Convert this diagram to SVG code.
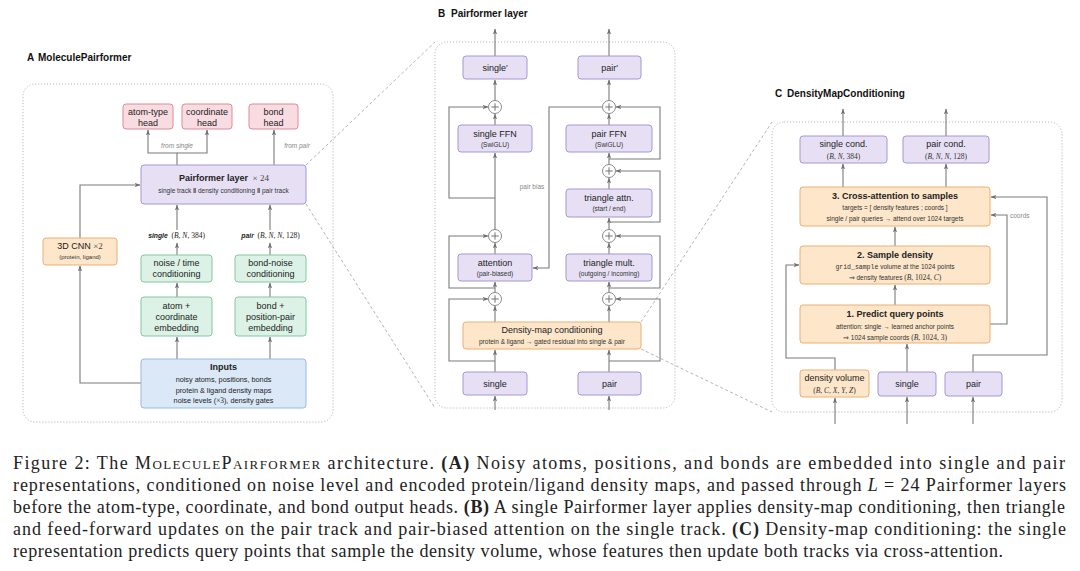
<svg xmlns="http://www.w3.org/2000/svg" width="1080" height="571" viewBox="0 0 1080 571">
<defs>
<marker id="ah" viewBox="0 0 10 10" refX="9" refY="5" markerWidth="6" markerHeight="6" markerUnits="userSpaceOnUse" orient="auto"><path d="M0,1.5 L10,5 L0,8.5 L2.5,5 z" fill="#707070"/></marker>
</defs>
<style>
.panel{fill:none;stroke:#b8b8b8;stroke-width:1;stroke-dasharray:1.2 1.8}
.zl{fill:none;stroke:#aaa;stroke-width:0.9;stroke-dasharray:3 2.5}
.c{fill:none;stroke:#7a7a7a;stroke-width:1.1}
.a{marker-end:url(#ah)}
.lav{fill:#e7e0f5;stroke:#a697d2;stroke-width:1}
.pink{fill:#f9dce1;stroke:#da8d98;stroke-width:1}
.green{fill:#dcf2e6;stroke:#86c6a3;stroke-width:1}
.blue{fill:#dbe8f7;stroke:#98badf;stroke-width:1}
.orange{fill:#fde6ca;stroke:#eab074;stroke-width:1}
.pc{fill:#fff;stroke:#8a8a8a;stroke-width:1}
.pl{stroke:#666;stroke-width:0.9;fill:none}
text{font-family:"Liberation Sans",Arial,sans-serif;fill:#222}
.l{font-size:9px;text-anchor:middle}
.s{font-size:6.5px;text-anchor:middle;fill:#333}
.b{font-weight:bold}
.g{fill:#888;font-size:6.5px;font-style:italic}
.gl{fill:#888;font-size:6.5px}
.m{font-family:"Liberation Serif","Times New Roman",serif}
.mono{font-family:"Liberation Mono","Courier New",monospace}
.title{font-size:10px;font-weight:bold;fill:#111}
.cap{font-family:"Liberation Serif","Times New Roman",serif;font-size:18px;fill:#222}
</style>
<rect width="1080" height="571" fill="#fff"/>

<g id="panelA">
<text class="title" y="61"><tspan x="27">A</tspan><tspan x="38">MoleculePairformer</tspan></text>
<rect class="panel" x="23" y="84" width="310" height="338" rx="12"/>
</g>
<g id="panelB">
<text class="title" y="17"><tspan x="438">B</tspan><tspan x="451">Pairformer layer</tspan></text>
<rect class="panel" x="435" y="42" width="240" height="366" rx="12"/>
</g>
<g id="panelC">
<text class="title" y="97"><tspan x="775">C</tspan><tspan x="787">DensityMapConditioning</tspan></text>
<rect class="panel" x="772" y="122" width="290" height="290" rx="12"/>
</g>

<g id="zoomlines">
<path class="zl" d="M306,165 L435,42 M306,204 L435,408 M641,322 L772,122 M641,349 L772,412"/>
</g>

<g id="connectors">
<path class="c a" d="M177,165 V153 H148 V130"/>
<path class="c a" d="M177,153 H207 V130"/>
<path class="c a" d="M274,165 V130"/>
<path class="c a" d="M80,238 V185 H140"/>
<path class="c a" d="M141,383 H80 V266"/>
<path class="c a" d="M177,359 V337"/>
<path class="c a" d="M270,359 V337"/>
<path class="c a" d="M177,297 V283"/>
<path class="c a" d="M270,297 V283"/>
<path class="c a" d="M177,255 V243"/>
<path class="c a" d="M270,255 V243"/>
<path class="c a" d="M177,230 V205"/>
<path class="c a" d="M270,230 V205"/>
<text class="g" x="177" y="148" text-anchor="middle">from single</text>
<text class="g" x="297" y="148" text-anchor="middle">from pair</text>
<path class="c a" d="M495,56 V29"/>
<path class="c a" d="M609,56 V29"/>
<path class="c a" d="M495,100.5 V80"/>
<path class="c a" d="M609,100.5 V80"/>
<path class="c a" d="M495,125 V114"/>
<path class="c a" d="M609,125 V114"/>
<path class="c a" d="M609,164.5 V153"/>
<path class="c a" d="M609,189 V178"/>
<path class="c a" d="M609,229.5 V218"/>
<path class="c a" d="M609,254 V243"/>
<path class="c a" d="M609,292.5 V282"/>
<path class="c a" d="M609,322 V306"/>
<path class="c a" d="M609,372 V350"/>
<path class="c a" d="M609,410 V396"/>
<path class="c a" d="M495,229.5 V153"/>
<path class="c a" d="M495,254 V243"/>
<path class="c a" d="M495,292.5 V282"/>
<path class="c a" d="M495,322 V306"/>
<path class="c a" d="M495,372 V350"/>
<path class="c a" d="M495,410 V396"/>
<path class="c a" d="M495,361 H449 V299 H488"/>
<path class="c a" d="M495,288 H449 V236 H488"/>
<path class="c a" d="M495,198 H449 V107 H488"/>
<path class="c a" d="M609,361 H660 V299 H616"/>
<path class="c a" d="M609,288 H660 V236 H616"/>
<path class="c a" d="M609,222 H660 V171 H616"/>
<path class="c a" d="M609,159 H660 V107 H616"/>
<path class="c a" d="M602.5,107 H549 V268 H533"/>
<text class="gl" x="532" y="189" text-anchor="middle">pair bias</text>
<path class="c a" d="M843,136 V109"/>
<path class="c a" d="M946,136 V109"/>
<path class="c a" d="M843,187 V164"/>
<path class="c a" d="M946,187 V164"/>
<path class="c a" d="M895,246 V227"/>
<path class="c a" d="M895,305 V285"/>
<path class="c a" d="M907,372 V344"/>
<path class="c a" d="M835,424 V398"/>
<path class="c a" d="M907,424 V397"/>
<path class="c a" d="M973,424 V397"/>
<path class="c a" d="M835,370 V358 H786 V265 H799"/>
<path class="c a" d="M973,372 V355 H1047 V197 H991"/>
<path class="c a" d="M990,324 H1007 V215 H991"/>
<text class="gl" x="1010" y="218">coords</text>
</g>

<g id="atomTypeHead"><rect class="pink" x="123" y="104" width="50" height="25" rx="3"/><text class="l" x="148" y="115">atom-type</text><text class="l" x="148" y="125.5">head</text></g>
<g id="coordHead"><rect class="pink" x="182" y="104" width="50" height="25" rx="3"/><text class="l" x="207" y="115">coordinate</text><text class="l" x="207" y="125.5">head</text></g>
<g id="bondHead"><rect class="pink" x="249" y="104" width="49" height="25" rx="3"/><text class="l" x="273.5" y="115">bond</text><text class="l" x="273.5" y="125.5">head</text></g>
<g id="pairformerLayer"><rect class="lav" x="141" y="165" width="165" height="39" rx="3"/>
<text class="l" x="224" y="181"><tspan class="b">Pairformer layer</tspan><tspan class="m" fill="#444">&#160; × 24</tspan></text>
<text class="s" x="223.5" y="193">single track <tspan class="b">‖</tspan> density conditioning <tspan class="b">‖</tspan> pair track</text></g>
<g id="cnn3d"><rect class="orange" x="43" y="238" width="74" height="27" rx="3"/><text class="l" x="80" y="249">3D CNN <tspan class="m" fill="#444">×2</tspan></text><text class="s" x="80" y="259" style="font-size:6px">(protein, ligand)</text></g>
<g id="singleLabel"><text x="176.5" y="238" text-anchor="middle" fill="#777" font-size="6.8"><tspan class="b" font-style="italic">single</tspan><tspan class="m" font-size="7.5">&#160; (<tspan font-style="italic">B</tspan>, <tspan font-style="italic">N</tspan>, 384)</tspan></text></g>
<g id="pairLabel"><text x="270.5" y="238" text-anchor="middle" fill="#777" font-size="6.8"><tspan class="b" font-style="italic">pair</tspan><tspan class="m" font-size="7.5">&#160; (<tspan font-style="italic">B</tspan>, <tspan font-style="italic">N</tspan>, <tspan font-style="italic">N</tspan>, 128)</tspan></text></g>
<g id="noiseTime"><rect class="green" x="141" y="255" width="71" height="27" rx="3"/><text class="l" x="176.5" y="266">noise / time</text><text class="l" x="176.5" y="277">conditioning</text></g>
<g id="bondNoise"><rect class="green" x="235" y="255" width="71" height="27" rx="3"/><text class="l" x="270.5" y="266">bond-noise</text><text class="l" x="270.5" y="277">conditioning</text></g>
<g id="atomEmb"><rect class="green" x="141" y="297" width="71" height="39" rx="3"/><text class="l" x="176.5" y="308.5">atom +</text><text class="l" x="176.5" y="319.5">coordinate</text><text class="l" x="176.5" y="330.5">embedding</text></g>
<g id="bondEmb"><rect class="green" x="235" y="297" width="71" height="39" rx="3"/><text class="l" x="270.5" y="308.5">bond +</text><text class="l" x="270.5" y="319.5">position-pair</text><text class="l" x="270.5" y="330.5">embedding</text></g>
<g id="inputs"><rect class="blue" x="141" y="359" width="165" height="49" rx="3"/><text class="l b" x="223.5" y="370">Inputs</text>
<text class="s" x="223.5" y="382" style="font-size:7.3px;fill:#222">noisy atoms, positions, bonds</text>
<text class="s" x="223.5" y="392.5" style="font-size:7.3px;fill:#222">protein &amp; ligand density maps</text>
<text class="s" x="223.5" y="403" style="font-size:7.3px;fill:#222">noise levels (<tspan class="m">×3</tspan>), density gates</text></g>

<g id="singleOut"><rect class="lav" x="463" y="56" width="64" height="23" rx="3"/><text class="l" x="495" y="71">single′</text></g>
<g id="pairOut"><rect class="lav" x="578" y="56" width="63" height="23" rx="3"/><text class="l" x="609.5" y="71">pair′</text></g>
<g id="singleFFN"><rect class="lav" x="458" y="125" width="74" height="27" rx="3"/><text class="l" x="495" y="136.5">single FFN</text><text class="s" x="495" y="147">(SwiGLU)</text></g>
<g id="pairFFN"><rect class="lav" x="566" y="125" width="86" height="27" rx="3"/><text class="l" x="609" y="136.5">pair FFN</text><text class="s" x="609" y="147">(SwiGLU)</text></g>
<g id="triAttn"><rect class="lav" x="566" y="189" width="86" height="28" rx="3"/><text class="l" x="609" y="200.5">triangle attn.</text><text class="s" x="609" y="211">(start / end)</text></g>
<g id="attention"><rect class="lav" x="458" y="254" width="74" height="27" rx="3"/><text class="l" x="495" y="265.5">attention</text><text class="s" x="495" y="276">(pair-biased)</text></g>
<g id="triMult"><rect class="lav" x="566" y="254" width="86" height="27" rx="3"/><text class="l" x="609" y="265.5">triangle mult.</text><text class="s" x="609" y="276">(outgoing / incoming)</text></g>
<g id="densityCond"><rect class="orange" x="463" y="322" width="178" height="27" rx="3"/><text class="l" x="552" y="333">Density-map conditioning</text><text class="s" x="552" y="344">protein &amp; ligand → gated residual into single &amp; pair</text></g>
<g id="singleIn"><rect class="lav" x="463" y="372" width="64" height="23" rx="3"/><text class="l" x="495" y="387">single</text></g>
<g id="pairIn"><rect class="lav" x="578" y="372" width="63" height="23" rx="3"/><text class="l" x="609.5" y="387">pair</text></g>
<g id="plusB">
<circle class="pc" cx="495" cy="107" r="6.5"/><path class="pl" d="M491.3,107 H498.7 M495,103.3 V110.7"/>
<circle class="pc" cx="609" cy="107" r="6.5"/><path class="pl" d="M605.3,107 H612.7 M609,103.3 V110.7"/>
<circle class="pc" cx="609" cy="171" r="6.5"/><path class="pl" d="M605.3,171 H612.7 M609,167.3 V174.7"/>
<circle class="pc" cx="495" cy="236" r="6.5"/><path class="pl" d="M491.3,236 H498.7 M495,232.3 V239.7"/>
<circle class="pc" cx="609" cy="236" r="6.5"/><path class="pl" d="M605.3,236 H612.7 M609,232.3 V239.7"/>
<circle class="pc" cx="495" cy="299" r="6.5"/><path class="pl" d="M491.3,299 H498.7 M495,295.3 V302.7"/>
<circle class="pc" cx="609" cy="299" r="6.5"/><path class="pl" d="M605.3,299 H612.7 M609,295.3 V302.7"/>
</g>

<g id="singleCond"><rect class="lav" x="800" y="136" width="87" height="27" rx="3"/><text class="l" x="843.5" y="147">single cond.</text><text class="s m" x="843.5" y="158.5" style="font-size:7.5px">(<tspan font-style="italic">B</tspan>, <tspan font-style="italic">N</tspan>, 384)</text></g>
<g id="pairCond"><rect class="lav" x="903" y="136" width="86" height="27" rx="3"/><text class="l" x="946" y="147">pair cond.</text><text class="s m" x="946" y="158.5" style="font-size:7.5px">(<tspan font-style="italic">B</tspan>, <tspan font-style="italic">N</tspan>, <tspan font-style="italic">N</tspan>, 128)</text></g>
<g id="crossAttn"><rect class="orange" x="800" y="187" width="190" height="39" rx="3"/><text class="l b" x="895" y="199">3. Cross-attention to samples</text><text class="s" x="895" y="210">targets = [ density features ; coords ]</text><text class="s" x="895" y="220.5">single / pair queries → attend over 1024 targets</text></g>
<g id="sampleDensity"><rect class="orange" x="800" y="246" width="190" height="38" rx="3"/><text class="l b" x="895" y="257.5">2. Sample density</text><text class="s" x="895" y="269"><tspan class="mono">grid_sample</tspan> volume at the 1024 points</text><text class="s" x="895" y="280">⇒ density features <tspan class="m" style="font-size:7.5px">(<tspan font-style="italic">B</tspan>, 1024, <tspan font-style="italic">C</tspan>)</tspan></text></g>
<g id="predictQuery"><rect class="orange" x="800" y="305" width="190" height="38" rx="3"/><text class="l b" x="895" y="316.5">1. Predict query points</text><text class="s" x="895" y="329">attention: single → learned anchor points</text><text class="s" x="895" y="339.5">⇒ 1024 sample coords <tspan class="m" style="font-size:7.5px">(<tspan font-style="italic">B</tspan>, 1024, 3)</tspan></text></g>
<g id="densityVolume"><rect class="orange" x="800" y="370" width="69" height="27" rx="3"/><text class="l" x="834.5" y="381">density volume</text><text class="s m" x="834.5" y="392.5" style="font-size:7.5px">(<tspan font-style="italic">B</tspan>, <tspan font-style="italic">C</tspan>, <tspan font-style="italic">X</tspan>, <tspan font-style="italic">Y</tspan>, <tspan font-style="italic">Z</tspan>)</text></g>
<g id="singleC"><rect class="lav" x="878" y="372" width="58" height="24" rx="3"/><text class="l" x="907" y="387">single</text></g>
<g id="pairC"><rect class="lav" x="945" y="372" width="57" height="24" rx="3"/><text class="l" x="973.5" y="387">pair</text></g>

<g id="caption">
<text class="cap" x="13" y="469" textLength="1052" lengthAdjust="spacing">Figure 2: The <tspan style="font-variant:small-caps">MoleculePairformer</tspan> architecture. <tspan font-weight="bold">(A)</tspan> Noisy atoms, positions, and bonds are embedded into single and pair</text>
<text class="cap" x="13" y="491" textLength="1053" lengthAdjust="spacing">representations, conditioned on noise level and encoded protein/ligand density maps, and passed through <tspan font-style="italic">L</tspan> = 24 Pairformer layers</text>
<text class="cap" x="13" y="513" textLength="1052" lengthAdjust="spacing">before the atom-type, coordinate, and bond output heads. <tspan font-weight="bold">(B)</tspan> A single Pairformer layer applies density-map conditioning, then triangle</text>
<text class="cap" x="13" y="535" textLength="1053" lengthAdjust="spacing">and feed-forward updates on the pair track and pair-biased attention on the single track. <tspan font-weight="bold">(C)</tspan> Density-map conditioning: the single</text>
<text class="cap" x="13" y="557" textLength="990" lengthAdjust="spacing">representation predicts query points that sample the density volume, whose features then update both tracks via cross-attention.</text>
</g>
</svg>
